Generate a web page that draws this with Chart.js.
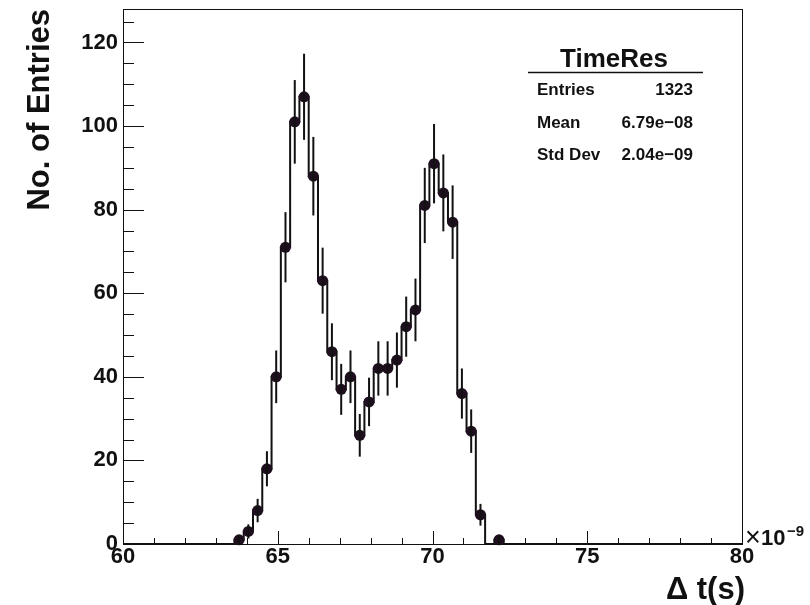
<!DOCTYPE html>
<html>
<head>
<meta charset="utf-8">
<script src="https://cdn.jsdelivr.net/npm/chart.js@4/dist/chart.umd.min.js"></script>
<style>
  html, body { margin: 0; padding: 0; background: #fff; }
  #wrap { width: 810px; height: 605px; position: relative; }
</style>
</head>
<body>
<div id="wrap"><canvas id="timeRes"></canvas></div>
<script>
// histogram TimeRes, bins of 0.3 (x1e-9 s)
const binWidth = 0.3;
const binCenters = [63.75, 64.05, 64.35, 64.65, 64.95, 65.25, 65.55, 65.85, 66.15, 66.45,
  66.75, 67.05, 67.35, 67.65, 67.95, 68.25, 68.55, 68.85, 69.15, 69.45,
  69.75, 70.05, 70.35, 70.65, 70.95, 71.25, 71.55, 71.85, 72.15];
const counts = [1, 3, 8, 18, 40, 71, 101, 107, 88, 63,
  46, 37, 40, 26, 34, 42, 42, 44, 52, 56,
  81, 91, 84, 77, 36, 27, 7, 0, 1];
const countErrors = [1, 1.7, 2.8, 4.2, 6.3, 8.4, 10, 10.3, 9.4, 7.9,
  6.8, 6.1, 6.3, 5.1, 5.8, 6.5, 6.5, 6.6, 7.2, 7.5,
  9, 9.5, 9.2, 8.8, 6, 5.2, 2.6, 0, 1];
const xMajorTicks = [60, 65, 70, 75, 80];
const yMajorTicks = [0, 20, 40, 60, 80, 100, 120];

const statsRows = [['Entries', '1323'], ['Mean', '6.79e\u221208'], ['Std Dev', '2.04e\u221209']];

const FONT = '"Liberation Sans", Arial, Helvetica, sans-serif';
const INK = '#111';

// step outline built from the bin edges
const stepPoints = [{ x: 60, y: 0 }];
binCenters.forEach((c, i) => stepPoints.push({ x: c - binWidth / 2, y: counts[i] }));
stepPoints.push({ x: binCenters[binCenters.length - 1] + binWidth / 2, y: 0 }, { x: 80, y: 0 });

// empty bins get no marker
const markerPoints = binCenters.map((c, i) => ({ x: c, y: counts[i] })).filter(p => p.y > 0);

// ROOT-like frame, inner ticks, error bars, titles and stats box
const rootStyle = {
  id: 'rootStyle',
  afterDatasetsDraw(chart) {
    const { ctx, scales: { x, y } } = chart;
    ctx.save();
    ctx.strokeStyle = INK;
    ctx.lineWidth = 2;
    binCenters.forEach((c, i) => {
      if (!countErrors[i]) return;
      const px = x.getPixelForValue(c);
      ctx.beginPath();
      ctx.moveTo(px, y.getPixelForValue(counts[i] - countErrors[i]));
      ctx.lineTo(px, y.getPixelForValue(counts[i] + countErrors[i]));
      ctx.stroke();
    });
    ctx.restore();
  },
  afterDraw(chart) {
    const { ctx, chartArea: a, scales: { x, y } } = chart;
    ctx.save();
    ctx.strokeStyle = INK;
    ctx.lineWidth = 1;
    ctx.strokeRect(a.left + 0.5, a.top + 0.5, a.right - a.left, a.bottom - a.top);

    ctx.beginPath();
    for (let v = 60; v <= 80; v += 1) {
      const px = Math.round(x.getPixelForValue(v)) + 0.5;
      const len = xMajorTicks.includes(v) ? 13 : 6;
      ctx.moveTo(px, a.bottom);
      ctx.lineTo(px, a.bottom - len);
    }
    for (let v = 0; v <= 125; v += 5) {
      const py = Math.round(y.getPixelForValue(v)) + 0.5;
      const len = yMajorTicks.includes(v) ? 21 : 11;
      ctx.moveTo(a.left, py);
      ctx.lineTo(a.left + len, py);
    }
    ctx.stroke();

    ctx.fillStyle = INK;
    // axis titles
    ctx.font = 'bold 31px ' + FONT;
    ctx.textAlign = 'right';
    ctx.textBaseline = 'alphabetic';
    ctx.fillText('\u0394 t(s)', 745, 599);
    ctx.save();
    ctx.translate(49, 9);
    ctx.rotate(-Math.PI / 2);
    ctx.fillText('No. of Entries', 0, 0);
    ctx.restore();

    // exponent
    ctx.textAlign = 'left';
    ctx.font = '27px ' + FONT;
    ctx.fillText('\u00d7', 745, 546);
    ctx.font = 'bold 22px ' + FONT;
    ctx.fillText('10', 761, 545);
    ctx.font = 'bold 15px ' + FONT;
    ctx.fillText('\u22129', 787, 536);

    // stats box
    ctx.textAlign = 'center';
    ctx.font = 'bold 26px ' + FONT;
    ctx.fillText('TimeRes', 614, 67);
    ctx.beginPath();
    ctx.moveTo(528, 72.5);
    ctx.lineTo(703, 72.5);
    ctx.lineWidth = 1.5;
    ctx.stroke();
    ctx.font = 'bold 17px ' + FONT;
    statsRows.forEach((r, i) => {
      const by = 95 + i * 32.5;
      ctx.textAlign = 'left';
      ctx.fillText(r[0], 537, by);
      ctx.textAlign = 'right';
      ctx.fillText(r[1], 693, by);
    });
    ctx.restore();
  }
};

new Chart(document.getElementById('timeRes'), {
  data: {
    datasets: [
      {
        type: 'line',
        data: stepPoints,
        stepped: true,
        borderColor: INK,
        borderWidth: 2,
        pointRadius: 0,
        fill: false,
        clip: 4,
        order: 2
      },
      {
        type: 'scatter',
        data: markerPoints,
        pointRadius: 5.5,
        pointBackgroundColor: '#1e0f1e',
        pointBorderColor: '#1e0f1e',
        pointBorderWidth: 0,
        clip: 8,
        order: 1
      }
    ]
  },
  options: {
    responsive: true,
    maintainAspectRatio: false,
    animation: false,
    layout: { padding: { top: 9, right: 68, left: 0, bottom: 0 } },
    plugins: { legend: { display: false }, tooltip: { enabled: false } },
    scales: {
      x: {
        type: 'linear',
        min: 60,
        max: 80,
        afterBuildTicks: s => { s.ticks = xMajorTicks.map(v => ({ value: v })); },
        afterFit: s => { s.height = 61; s.paddingLeft = 0; s.paddingRight = 0; },
        grid: { display: false, drawTicks: false },
        border: { display: false },
        ticks: { color: INK, padding: 0, maxRotation: 0, font: { family: FONT, size: 22, weight: 'bold' } }
      },
      y: {
        type: 'linear',
        min: 0,
        max: 128,
        afterBuildTicks: s => { s.ticks = yMajorTicks.map(v => ({ value: v })); },
        afterFit: s => { s.width = 123; s.paddingTop = 0; s.paddingBottom = 0; },
        grid: { display: false, drawTicks: false },
        border: { display: false },
        ticks: { color: INK, padding: 5, font: { family: FONT, size: 22, weight: 'bold' } }
      }
    }
  },
  plugins: [rootStyle]
});
</script>
</body>
</html>
